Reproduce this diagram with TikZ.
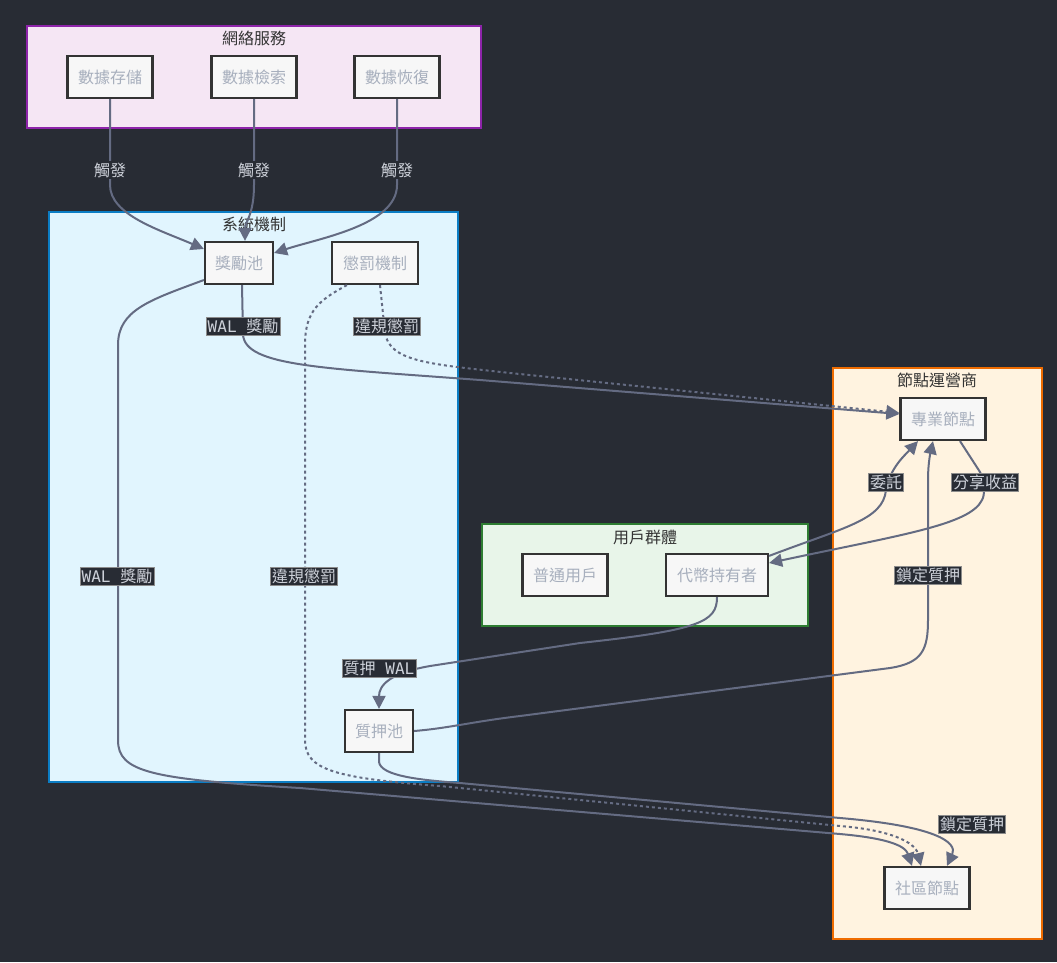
\documentclass[tikz,border=0pt]{standalone}
\usepackage{fontspec}
\setmainfont{Noto Sans CJK TC}
\newfontfamily\mono{DejaVu Sans Mono}
\usetikzlibrary{arrows.meta,calc}
\definecolor{bgc}{HTML}{282C34}
\definecolor{edgec}{HTML}{646B82}
\definecolor{nodetxt}{HTML}{A7AFBD}
\definecolor{lbltxt}{HTML}{CDD1D9}
\definecolor{pinkf}{HTML}{F5E6F4}
\definecolor{pinkd}{HTML}{8E24AA}
\definecolor{bluef}{HTML}{E1F5FE}
\definecolor{blued}{HTML}{0B7DC4}
\definecolor{orf}{HTML}{FFF3E0}
\definecolor{ord}{HTML}{EF6C00}
\definecolor{grf}{HTML}{E8F5E9}
\definecolor{grd}{HTML}{2E7D32}
\tikzset{
  clus/.style={line width=2pt},
  ctitle/.style={text=black!80, font=\fontsize{16}{18}\selectfont, inner sep=0pt},
  box/.style={draw=black!80, line width=2.2pt, fill=white!97!black, text=nodetxt,
    minimum width=85pt, minimum height=42pt, inner sep=0pt, font=\fontsize{16}{18}\selectfont},
  arr/.style={draw=edgec, line width=2pt, -{Triangle[length=13pt,width=13pt]}},
  dotl/.style={arr, dash pattern=on 3pt off 3pt},
  lbl/.style={fill=bgc, draw=black!45, line width=0.4pt, text=lbltxt, inner sep=1.5pt,
    font=\fontsize{16}{18}\selectfont},
  tlbl/.style={fill=bgc, text=lbltxt, inner sep=1.5pt, font=\fontsize{16}{18}\selectfont}
}
\begin{document}
\begin{tikzpicture}[x=1pt,y=-1pt]
\fill[bgc] (0,0) rectangle (1057,962);
\useasboundingbox (0,0) rectangle (1057,962);
% clusters
\draw[clus, fill=pinkf, draw=pinkd] (27,26) rectangle (481,128);
\node[ctitle] (t1) at (254,38) {網絡服務};
\draw[clus, fill=bluef, draw=blued] (49,212) rectangle (458,782);
\node[ctitle] (t2) at (254,224) {系統機制};
\draw[clus, fill=orf, draw=ord] (833,368) rectangle (1042,939);
\node[ctitle] (t3) at (937,380) {節點運營商};
\draw[clus, fill=grf, draw=grd] (482,524) rectangle (808,626);
\node[ctitle] (t4) at (645,537) {用戶群體};
% nodes
\node[box] (ds1) at (110,77) {數據存儲};
\node[box] (ds2) at (254,77) {數據檢索};
\node[box] (ds3) at (397,77) {數據恢復};
\node[box, minimum width=68pt] (rp) at (239,263) {獎勵池};
\node[box, minimum width=86pt] (pm) at (375,263) {懲罰機制};
\node[box] (pn) at (943,419) {專業節點};
\node[box] (nu) at (565,575) {普通用戶};
\node[box, minimum width=102pt] (th) at (717,575) {代幣持有者};
\node[box, minimum width=68pt] (sp) at (379,731) {質押池};
\node[box] (cn) at (927,888) {社區節點};
% edges: triggers
\draw[arr] (ds1.south) -- (110,185) .. controls (110,215) and (160,230) .. ($(rp.west)+(0,-14)$);
\draw[arr] (ds2.south) -- (254,185) .. controls (254,215) and (245,222) .. ($(rp.north)+(6,0)$);
\draw[arr] (ds3.south) -- (397,185) .. controls (397,225) and (320,238) .. ($(rp.east)+(0,-10)$);
% reward to pro node
\draw[arr] ($(rp.south)+(3,0)$) -- (243,335) .. controls (246,366) and (320,368) .. (480,380) -- ($(pn.west)+(0,-5)$);
% penalty to pro node (dotted)
\draw[dotl] ($(pm.south)+(5,0)$) -- (385,333) .. controls (390,362) and (430,364) .. (510,373) -- ($(pn.west)+(0,-6)$);
% reward to community node
\draw[arr] ($(rp.west)+(0,17)$) .. controls (150,300) and (118,310) .. (118,345) -- (118,740)
   .. controls (118,772) and (150,779) .. (300,788) -- (840,834) .. controls (885,838) and (905,845) .. ($(cn.north)+(-15,0)$);
% penalty to community node (dotted)
\draw[dotl] ($(pm.south west)+(16,0)$) .. controls (320,300) and (305,310) .. (305,345) -- (305,740)
   .. controls (305,770) and (335,778) .. (440,786) -- (840,826) .. controls (890,830) and (915,842) .. ($(cn.north)+(-6,0)$);
% stake pool to community node
\draw[arr] (sp.south) -- (379,762) .. controls (381,776) and (420,780) .. (460,783) -- (840,818)
   .. controls (935,826) and (958,842) .. ($(cn.north)+(20,0)$);
% share earnings
\draw[arr] ($(pn.south)+(17,0)$) -- (980,472) .. controls (985,482) and (985,495) .. (982,500)
   .. controls (970,525) and (900,535) .. ($(th.east)+(0,-12)$);
% delegate
\draw[arr] ($(th.north east)+(0,3)$) .. controls (845,527) and (883,520) .. (886,490)
   .. controls (890,468) and (905,455) .. ($(pn.south)+(-25,0)$);
% lock stake to pro node
\draw[arr] (sp.east) .. controls (450,728) and (470,722) .. (520,716) -- (890,668)
   .. controls (922,663) and (928,650) .. (928,620) -- (928,480) .. controls (928,462) and (931,450) .. ($(pn.south)+(-10,0)$);
% stake WAL
\draw[arr] (th.south) .. controls (717,622) and (700,630) .. (580,643) -- (430,666)
   .. controls (390,673) and (379,685) .. (sp.north);
% labels
\node[tlbl] (l1) at (110,170) {觸發};
\node[tlbl] (l2) at (254,170) {觸發};
\node[tlbl] (l3) at (397,170) {觸發};
\node[lbl] (l4) at (243,326) {{\mono WAL }獎勵};
\node[lbl] (l5) at (387,326) {違規懲罰};
\node[lbl] (l6) at (117,576) {{\mono WAL }獎勵};
\node[lbl] (l7) at (304,576) {違規懲罰};
\node[lbl] (l8) at (886,482) {委託};
\node[lbl] (l9) at (985,482) {分享收益};
\node[lbl] (l10) at (928,575) {鎖定質押};
\node[lbl] (l11) at (972,824) {鎖定質押};
\node[lbl] (l12) at (379,668) {質押{\mono{} WAL}};
\end{tikzpicture}
\end{document}
